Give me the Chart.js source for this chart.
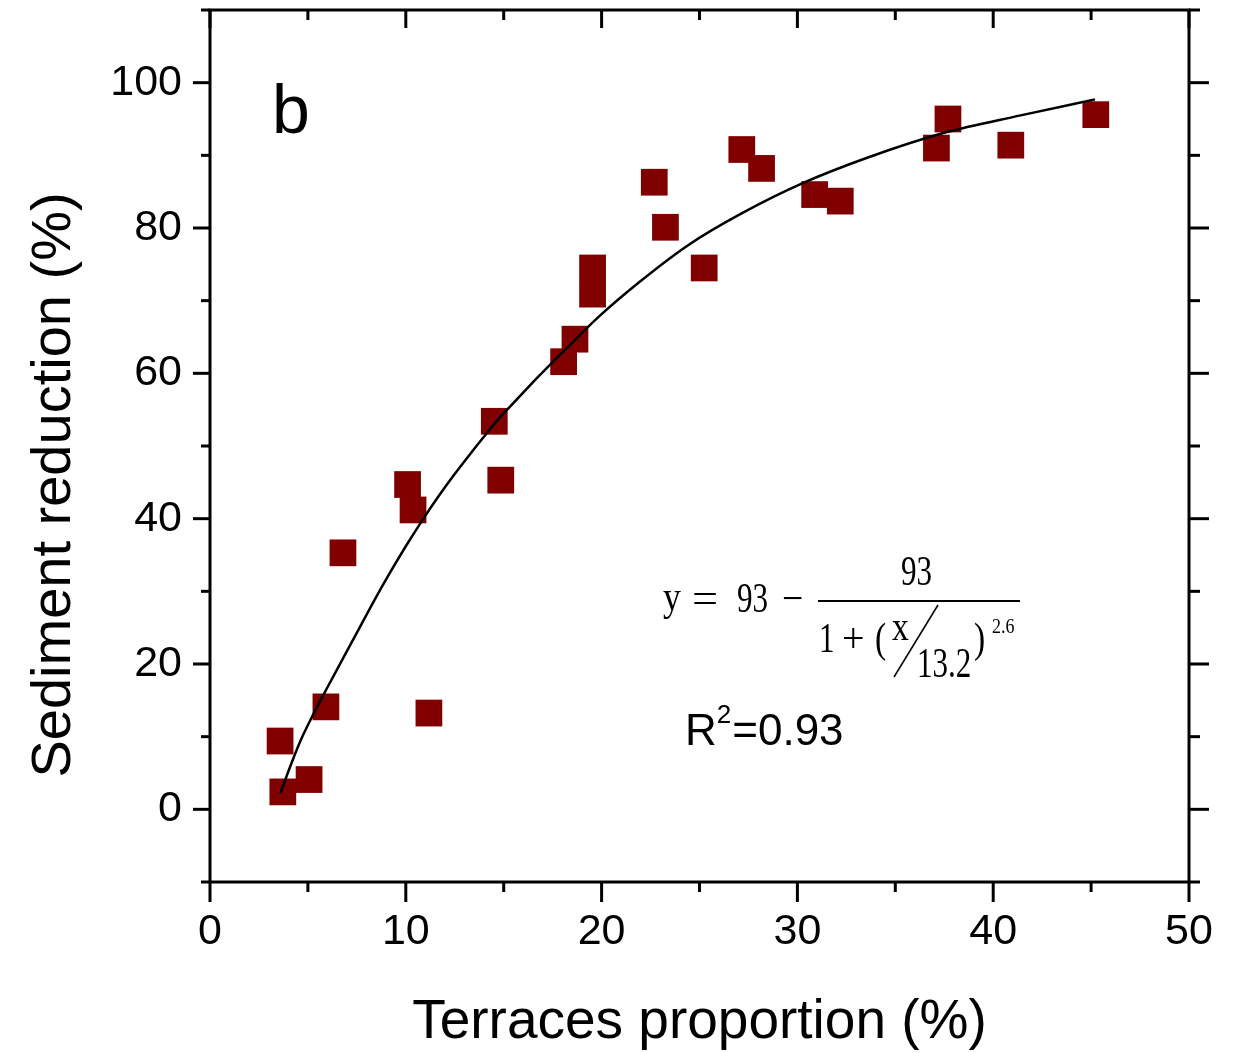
<!DOCTYPE html>
<html>
<head>
<meta charset="utf-8">
<script src="https://cdn.jsdelivr.net/npm/chart.js@4"></script>
<style>
html,body{margin:0;padding:0;background:#fff;}
#wrap{width:1243px;height:1053px;}
</style>
</head>
<body>
<div id="wrap"><canvas id="c" width="1243" height="1053"></canvas></div>
<script>
// ---- data ----
const obsX = [3.58, 3.72, 5.06, 5.92, 6.79, 10.09, 10.37, 11.18, 14.52, 14.85, 18.06, 18.64, 19.54, 19.54, 22.69, 23.26, 25.24, 27.16, 28.17, 30.88, 32.19, 37.10, 37.69, 40.90, 45.24];
const obsY = [9.4, 2.4, 4.1, 14.1, 35.3, 44.7, 41.2, 13.25, 53.4, 45.3, 61.6, 64.7, 74.5, 70.9, 86.3, 80.1, 74.5, 90.8, 88.2, 84.6, 83.7, 91.0, 95.0, 91.4, 95.6];

const fitX = [3.6, 4.0, 4.6, 5.3, 6.0, 6.8, 7.6, 8.4, 9.2, 10.0, 10.8, 11.6, 12.4, 13.2, 14.0, 14.8, 15.6, 16.5, 18.2, 19.9, 21.9, 24.4, 27.15, 30.3, 33.6, 37.5, 41.4, 45.2];
const fitY = [2.2, 5.2, 9.3, 13.2, 16.8, 20.8, 24.8, 28.8, 32.6, 36.2, 39.6, 42.8, 45.8, 48.6, 51.3, 53.9, 56.2, 58.8, 63.4, 67.9, 72.5, 77.6, 82.0, 86.2, 89.7, 93.1, 95.5, 97.7];

const xMajorTicks = [0, 10, 20, 30, 40, 50];
const xMinorTicks = [5, 15, 25, 35, 45];
const yMajorTicks = [0, 20, 40, 60, 80, 100];
const yMinorTicks = [-10, 10, 30, 50, 70, 90, 110];

const xTitle = 'Terraces proportion (%)';
const yTitle = 'Sediment reduction (%)';
const panelLabel = 'b';
const eqLeft = 'y';
const eqConst = '93';
const eqNum = '93';
const eqDenomA = '1';
const eqVarX = 'x';
const eqScale = '13.2';
const eqPower = '2.6';
const r2Text = '0.93';

const SANS = '"Liberation Sans", Arial, sans-serif';
const SERIF = '"Liberation Serif", "Times New Roman", serif';

const obsPoints = obsX.map((x, i) => ({x: x, y: obsY[i]}));
const fitPoints = fitX.map((x, i) => ({x: x, y: fitY[i]}));

const decor = {
  id: 'decor',
  afterDraw(chart) {
    const ctx = chart.ctx;
    const a = chart.chartArea;
    const xs = chart.scales.x, ys = chart.scales.y;
    ctx.save();
    ctx.strokeStyle = '#000';
    ctx.lineWidth = 3;
    ctx.lineCap = 'butt';
    ctx.strokeRect(a.left, a.top, a.right - a.left, a.bottom - a.top);
    const line = (x1, y1, x2, y2) => { ctx.beginPath(); ctx.moveTo(x1, y1); ctx.lineTo(x2, y2); ctx.stroke(); };
    yMajorTicks.forEach(v => { const p = ys.getPixelForValue(v); line(a.left - 17, p, a.left, p); line(a.right, p, a.right + 20, p); });
    yMinorTicks.forEach(v => { const p = ys.getPixelForValue(v); line(a.left - 9, p, a.left, p); line(a.right, p, a.right + 11, p); });
    xMajorTicks.forEach(v => { const p = xs.getPixelForValue(v); line(p, a.bottom, p, a.bottom + 20); line(p, a.top, p, a.top + 18); });
    xMinorTicks.forEach(v => { const p = xs.getPixelForValue(v); line(p, a.bottom, p, a.bottom + 10); line(p, a.top, p, a.top + 10); });

    ctx.fillStyle = '#000';
    // axis titles
    ctx.font = '55px ' + SANS;
    ctx.textAlign = 'center';
    ctx.textBaseline = 'alphabetic';
    ctx.fillText(xTitle, (a.left + a.right) / 2, 1038);
    ctx.save();
    ctx.translate(70, 485);
    ctx.rotate(-Math.PI / 2);
    ctx.font = '56px ' + SANS;
    ctx.fillText(yTitle, 0, 0);
    ctx.restore();

    // panel label
    ctx.textAlign = 'left';
    ctx.font = '68px ' + SANS;
    ctx.fillText(panelLabel, 272, 133);

    // equation (serif, slightly condensed)
    const put = (t, x, y, size, sx) => {
      ctx.save();
      ctx.translate(x, y);
      ctx.scale(sx, 1);
      ctx.font = size + 'px ' + SERIF;
      ctx.fillText(t, 0, 0);
      ctx.restore();
    };
    put(eqLeft, 663, 610, 42, 0.85);
    put('=', 692, 612, 42, 1.1);
    put(eqConst, 737, 612, 42, 0.74);
    put('\u2212', 782, 612, 42, 0.9);
    ctx.lineWidth = 2;
    line(818, 601, 1020, 601);
    put(eqNum, 901, 585, 42, 0.74);
    put(eqDenomA, 819, 652, 42, 0.74);
    put('+', 842, 652, 42, 0.95);
    put('(', 875, 652, 42, 0.8);
    put(eqVarX, 892, 640, 42, 0.8);
    ctx.lineWidth = 1.5;
    line(938, 605, 894, 677);
    put(eqScale, 917, 677, 42, 0.74);
    put(')', 974, 652, 42, 0.8);
    put(eqPower, 992, 633, 20, 0.9);

    // R^2
    ctx.font = '44px ' + SANS;
    ctx.fillText('R', 685, 745);
    let wx = 685 + ctx.measureText('R').width;
    ctx.font = '26px ' + SANS;
    ctx.fillText('2', wx, 723);
    wx += ctx.measureText('2').width + 1;
    ctx.font = '44px ' + SANS;
    ctx.fillText('=' + r2Text, wx, 745);
    ctx.restore();
  }
};

const noPad = s => { s.paddingTop = 0; s.paddingBottom = 0; s.paddingLeft = 0; s.paddingRight = 0; };

new Chart(document.getElementById('c'), {
  type: 'scatter',
  data: {
    datasets: [
      {
        type: 'line',
        label: 'fit',
        data: fitPoints,
        borderColor: '#000',
        borderWidth: 2.5,
        pointRadius: 0,
        fill: false,
        tension: 0.4,
        cubicInterpolationMode: 'monotone',
        order: 0
      },
      {
        label: 'observed',
        data: obsPoints,
        pointStyle: 'rect',
        pointRadius: 18.9,
        pointHoverRadius: 18.9,
        backgroundColor: '#800000',
        borderColor: '#800000',
        borderWidth: 0,
        order: 1
      }
    ]
  },
  options: {
    responsive: false,
    animation: false,
    devicePixelRatio: 1,
    layout: { autoPadding: false, padding: { top: 10, right: 54, left: 0, bottom: 0 } },
    plugins: { legend: { display: false }, tooltip: { enabled: false } },
    scales: {
      x: {
        type: 'linear',
        min: 0, max: 50,
        afterBuildTicks: s => { s.ticks = xMajorTicks.map(v => ({value: v})); },
        afterFit: s => { s.height = 171; noPad(s); },
        grid: { display: false, drawTicks: false },
        border: { display: false },
        ticks: { color: '#000', font: { family: SANS, size: 43 }, padding: 24, maxRotation: 0 }
      },
      y: {
        type: 'linear',
        min: -10, max: 110,
        afterBuildTicks: s => { s.ticks = yMajorTicks.map(v => ({value: v})); },
        afterFit: s => { s.width = 210; noPad(s); },
        grid: { display: false, drawTicks: false },
        border: { display: false },
        ticks: { color: '#000', font: { family: SANS, size: 43 }, padding: 28 }
      }
    }
  },
  plugins: [decor]
});
</script>
</body>
</html>
